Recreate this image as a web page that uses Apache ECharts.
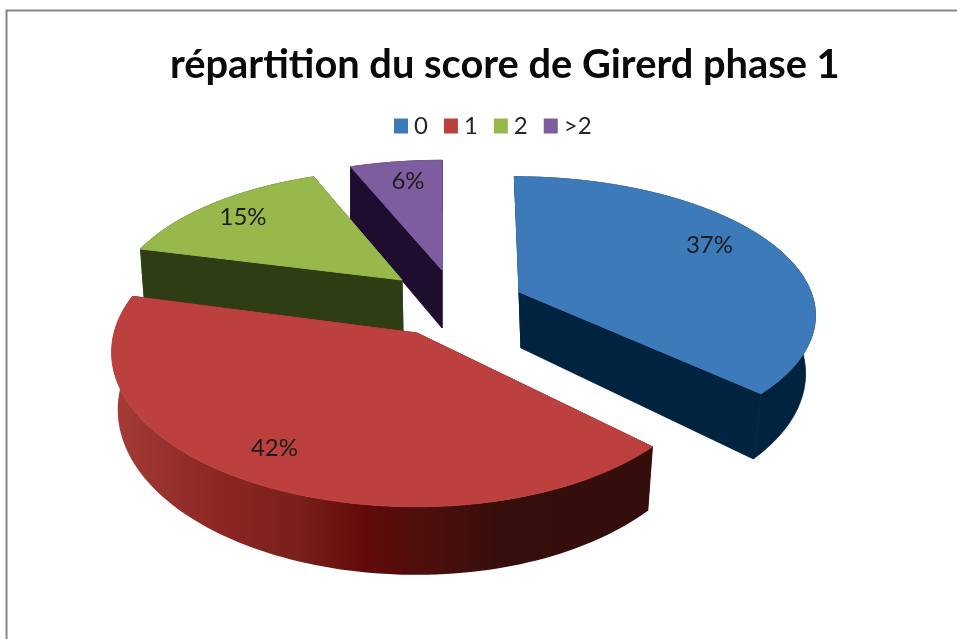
<!DOCTYPE html>
<html><head><meta charset="utf-8">
<style>html,body{margin:0;padding:0;background:#fff}#c{width:957px;height:639px}</style>
<script src="https://cdn.jsdelivr.net/npm/echarts@6/dist/echarts.min.js"></script>
</head><body><div id="c"></div>
<script>
const titleText = 'répartition du score de Girerd phase 1';
const categories = ['0', '1', '2', '>2'];
const values = [37, 42, 15, 6];

const topColors = ['#3d7ab9', '#bb403e', '#97b84b', '#7d5ca0'];
const wallColors = ['#00233f', '#330e0b', '#2f3d14', '#1e0d2e'];
const apexes = [[519, 292], [417, 333], [402, 280], [442, 270]];
const depths = [56, 56, 51, 58];
const zOrder = [2, 4, 3, 1];
const radiiX = [292, 303, 283, 293];
const radiiY = [133, 152, 131, 131];
const persp = [0.154, 0.125, 0.1945, 0.1945];
const rightScale = [1, 0.975, 1, 1];
const shearX = [0.04, 0, 0, 0];
const bottomScaleX = [0.96, 0.98, 0.99, 1];
const bottomScaleY = [1.09, 1.07, 1.07, 1.05];
const bottomShiftX = [2, 0, 1, 0];
const labelShift = [[0, -9], [-18, 2], [-16, -4], [1, -7]];
const total = values.reduce((a, b) => a + b, 0);

function project(i, deg, k) {
  const a = deg * Math.PI / 180, X = Math.sin(a), Y = Math.cos(a);
  const s = 1 / (1 + persp[i] * Y);
  const ox = radiiX[i] * X * s * k * (X > 0 ? rightScale[i] : 1);
  const oy = -radiiY[i] * Y * s * k;
  return [ox + shearX[i] * oy, oy];
}
function sweep(i) {
  let start = 0;
  for (let j = 0; j < i; j++) start += values[j] / total * 360;
  return [start, start + values[i] / total * 360];
}
function topPt(i, off) { return [apexes[i][0] + off[0], apexes[i][1] + off[1]]; }
function botPt(i, off) {
  return [apexes[i][0] + bottomShiftX[i] + off[0] * bottomScaleX[i], apexes[i][1] + depths[i] + off[1] * bottomScaleY[i]];
}

function renderSlice(i) {
  return function () {
    const [a0, a1] = sweep(i);
    const arc = [];
    const n = Math.ceil((a1 - a0) / 1.5);
    for (let t = 0; t <= n; t++) arc.push(project(i, a0 + (a1 - a0) * t / n, 1));
    const top = [topPt(i, [0, 0])].concat(arc.map(o => topPt(i, o)));
    const outer = arc.map(o => topPt(i, o)).concat(arc.slice().reverse().map(o => botPt(i, o)));
    const wall = off => [topPt(i, [0, 0]), topPt(i, off), botPt(i, off), botPt(i, [0, 0])];
    const solid = { fill: wallColors[i], stroke: wallColors[i], lineWidth: 0.8 };
    const outerStyle = i === 1 ? {
      fill: {
        type: 'linear', x: 0, y: 0, x2: 1, y2: 0,
        colorStops: [
          { offset: 0, color: '#a53c38' }, { offset: 0.2, color: '#8b2623' },
          { offset: 0.34, color: '#7b201b' }, { offset: 0.47, color: '#610a0a' },
          { offset: 0.6, color: '#4a0f0c' }, { offset: 0.72, color: '#360e0b' },
          { offset: 1, color: '#330e0b' }
        ]
      }
    } : solid;
    const mid = project(i, (a0 + a1) / 2, 0.76);
    const lp = topPt(i, mid);
    return {
      type: 'group',
      children: [
        { type: 'polygon', shape: { points: wall(arc[0]) }, style: solid },
        { type: 'polygon', shape: { points: wall(arc[arc.length - 1]) }, style: solid },
        { type: 'polygon', shape: { points: outer }, style: outerStyle },
        { type: 'polygon', shape: { points: top }, style: { fill: topColors[i], stroke: topColors[i], lineWidth: 1 } },
        { type: 'text', style: { x: lp[0] + labelShift[i][0], y: lp[1] + labelShift[i][1], text: values[i] + '%',
          align: 'center', verticalAlign: 'middle', fill: '#1c1c1c', font: '24px Lato' } }
      ]
    };
  };
}

const chart = echarts.init(document.getElementById('c'), null, { renderer: 'canvas' });
chart.setOption({
  animation: false,
  backgroundColor: '#fff',
  title: { text: titleText, left: 165, top: 40, textStyle: { fontFamily: 'Lato', fontWeight: 'bold', fontSize: 39.8, color: '#0a0a0a' } },
  legend: {
    data: categories, left: 394, top: 114, padding: 0, icon: 'rect', itemWidth: 14, itemHeight: 15, itemGap: 16,
    textStyle: { fontFamily: 'Lato', fontSize: 24, color: '#262626', padding: [0, 0, 0, 1] }
  },
  graphic: [
    { type: 'polyline', shape: { points: [[6.5, 639], [6.5, 10.5], [957, 10.5]] }, style: { stroke: '#868686', lineWidth: 2, fill: null } }
  ],
  series: categories.map((name, i) => ({
    type: 'custom', name, z: zOrder[i], coordinateSystem: 'none',
    itemStyle: { color: topColors[i] },
    data: [values[i]],
    renderItem: renderSlice(i)
  }))
});
</script></body></html>
